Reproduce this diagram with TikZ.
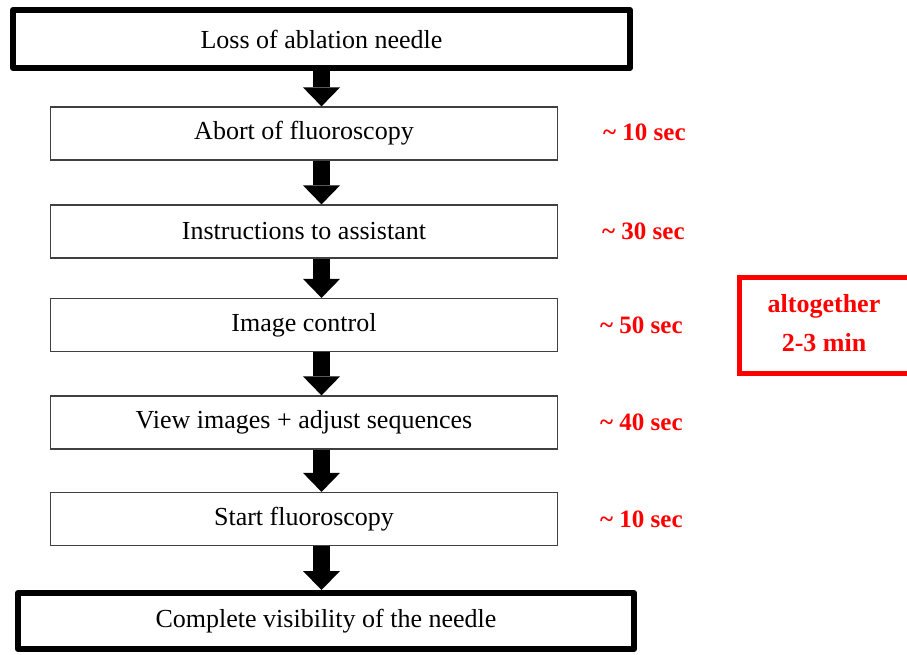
\documentclass[tikz,border=0pt]{standalone}
\usepackage{fontspec}
\setmainfont{Liberation Serif}
\usepackage{tikz}
\usetikzlibrary{arrows.meta, positioning}
\definecolor{timered}{HTML}{FF0000}

\begin{document}
\begin{tikzpicture}[x=1pt, y=-1pt,
    every node/.style={font=\fontsize{26}{30}\selectfont},
    endbox/.style={draw, line width=6pt, line join=round, minimum width=617pt, minimum height=58pt, inner sep=0pt},
    stepbox/.style={draw=black!75, line width=1.2pt, minimum width=507pt, minimum height=53pt, inner sep=0pt},
    timelabel/.style={text=timered, font=\fontsize{25}{30}\selectfont\bfseries, anchor=west, inner sep=0pt},
    flowarrow/.style={line width=17pt, -{Triangle[width=37pt, length=19pt, line width=0pt]}}]
    \useasboundingbox (0,0) rectangle (907,655);

    % Start and end
    \node[endbox] (loss) at (321.5,39) {Loss of ablation needle};
    \node[endbox, minimum width=616pt, minimum height=56pt] (visible) at (326,621) {Complete visibility of the needle};

    % Steps
    \node[stepbox] (abort)   at (304,133.5) {Abort of fluoroscopy};
    \node[stepbox] (instr)   at (304,231.5) {Instructions to assistant};
    \node[stepbox] (imgctl)  at (304,325)   {Image control};
    \node[stepbox] (viewimg) at (304,422.5) {View images + adjust sequences};
    \node[stepbox] (startfl) at (304,519)   {Start fluoroscopy};

    % Arrows
    \draw[flowarrow] (loss.south)         -- (abort.north -| loss.south);
    \draw[flowarrow] (abort.south -| loss)   -- (instr.north -| loss);
    \draw[flowarrow] (instr.south -| loss)   -- (imgctl.north -| loss);
    \draw[flowarrow] (imgctl.south -| loss)  -- (viewimg.north -| loss);
    \draw[flowarrow] (viewimg.south -| loss) -- (startfl.north -| loss);
    \draw[flowarrow] (startfl.south -| loss) -- (visible.north -| loss);

    % Times
    \node[timelabel] (t1) at (603,132) {\textasciitilde\ 10 sec};
    \node[timelabel] (t2) at (602,231) {\textasciitilde\ 30 sec};
    \node[timelabel] (t3) at (600,325) {\textasciitilde\ 50 sec};
    \node[timelabel] (t4) at (600,422) {\textasciitilde\ 40 sec};
    \node[timelabel] (t5) at (600,519) {\textasciitilde\ 10 sec};

    % Total
    \node[text=timered, align=center, font=\fontsize{26}{39}\selectfont\bfseries] (total) at (824,323.5)
          {altogether\\2-3 min};
    \draw[timered, line width=5pt] (739.5,277.5) rectangle (925,373.5);
\end{tikzpicture}
\end{document}
